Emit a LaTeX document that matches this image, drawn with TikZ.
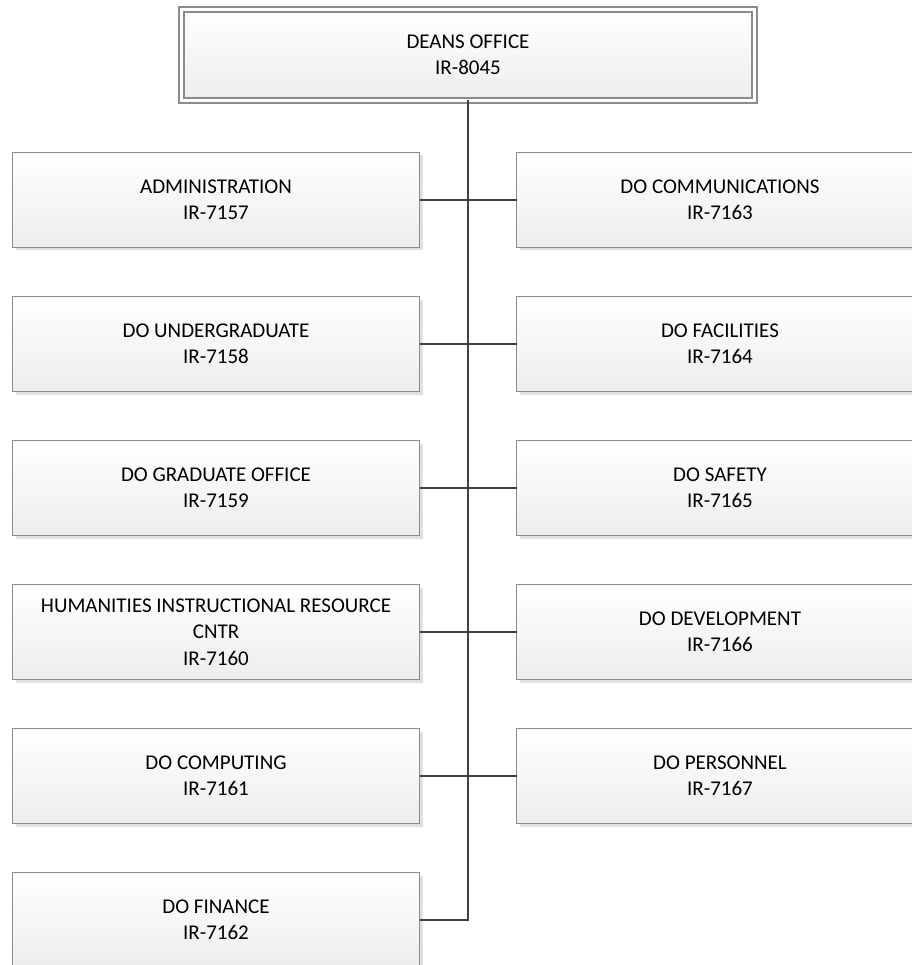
\documentclass[tikz,border=0pt]{standalone}
\usepackage{fontspec}
\setmainfont{Carlito}
\usetikzlibrary{shadows}
\tikzset{every picture/.style={line width=1.5pt}}
\tikzset{
  unit/.style={rectangle, draw=black!45, top color=white, bottom color=black!7,
                minimum width=#1, minimum height=95pt, inner sep=0pt, outer sep=0pt,
                align=center, font=\fontsize{21}{26.5}\selectfont,
                drop shadow={shadow xshift=3pt, shadow yshift=-3pt, fill=black, opacity=0.12}},
  unit/.default={407pt}, % width of the department boxes
  dean/.style={unit=573pt, minimum height=91pt, double=white, double distance=3.5pt},
  link/.style={draw=black!75, line width=2.6pt},
}
\def\lx{216}
\def\rx{720}

\begin{document}
\begin{tikzpicture}[x=1pt,y=-1pt]
  \useasboundingbox (0,0) rectangle (911,965);
  \node[dean] (dean) at (468,55) {DEANS OFFICE\\IR-8045};
  % left column | one row every 144pt
  \foreach \name/\code [count=\i] in {ADMINISTRATION/7157, DO UNDERGRADUATE/7158,
      DO GRADUATE OFFICE/7159, {HUMANITIES INSTRUCTIONAL RESOURCE\\CNTR}/7160,
      DO COMPUTING/7161, DO FINANCE/7162} {
      \node[unit] (l\i) at (\lx,{56+144*\i}) {\name\\IR-\code};
  };
  % right column
  \foreach \name/\code [count=\i] in {DO COMMUNICATIONS/7163, DO FACILITIES/7164,
      DO SAFETY/7165, DO DEVELOPMENT/7166, DO PERSONNEL/7167} {
      \node[unit] (r\i) at (\rx,{56+144*\i}) {\name\\IR-\code};
  };
  % trunk and branches
  \draw[link] (dean.south) |- (l6.east);
  \foreach \i in {1,...,5} {
      \draw[link] (l\i.east) -- (r\i.west);
  };
\end{tikzpicture}
\end{document}
